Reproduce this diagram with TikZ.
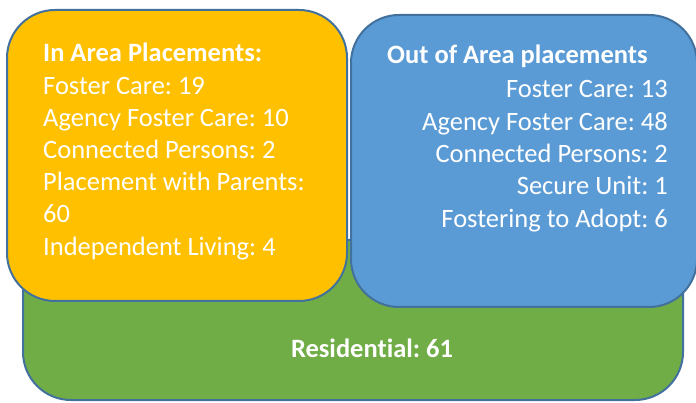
\documentclass[tikz,border=0pt]{standalone}
\usepackage{fontspec}
\setmainfont{Carlito}[Ligatures=NoCommon]
\frenchspacing
\definecolor{edgeblue}{HTML}{41719C}
\definecolor{inareafill}{HTML}{FFC000}
\definecolor{outareafill}{HTML}{5B9BD5}
\definecolor{residfill}{HTML}{70AD47}
\tikzset{
	panel/.style={draw=edgeblue, line width=2pt, rounded corners=48pt, inner sep=0pt},
	entry/.style={text=white, font=\fontsize{26.5}{31}\selectfont, inner sep=0pt},
}

\begin{document}
\begin{tikzpicture}[x=1pt,y=-1pt]
\useasboundingbox (0,0) rectangle (696,403);

% the three groups, residential at the back
\node[panel, fill=residfill, minimum width=660pt, minimum height=160pt] (res) at (353,320) {};
\node[panel, fill=inareafill, minimum width=340pt, minimum height=291pt] (ina) at (177,155.5) {};
\node[panel, fill=outareafill, minimum width=346pt, minimum height=292pt] (outa) at (524,161) {};

% in area
\node[entry, anchor=base west] (inhead) at (43,62) {\bfseries In Area Placements:};
\foreach \txt [count=\i] in {Foster Care: 19, Agency Foster Care: 10, Connected Persons: 2,
		Placement with Parents:, 60, Independent Living: 4}
	\node[entry, anchor=base west] (in\i) at (43,62+\i*32.2) {\txt};

% out of area
\node[entry, anchor=base west] (outhead) at (387,64) {\bfseries Out of Area placements};
\foreach \txt [count=\i from 0] in {Foster Care: 13, Agency Foster Care: 48, Connected Persons: 2,
		Secure Unit: 1, Fostering to Adopt: 6}
	\node[entry, anchor=base east] (out\i) at (668,98+\i*32.3) {\txt};

\node[entry, anchor=base] (reshead) at (372,357) {\bfseries Residential: 61};
\end{tikzpicture}
\end{document}
